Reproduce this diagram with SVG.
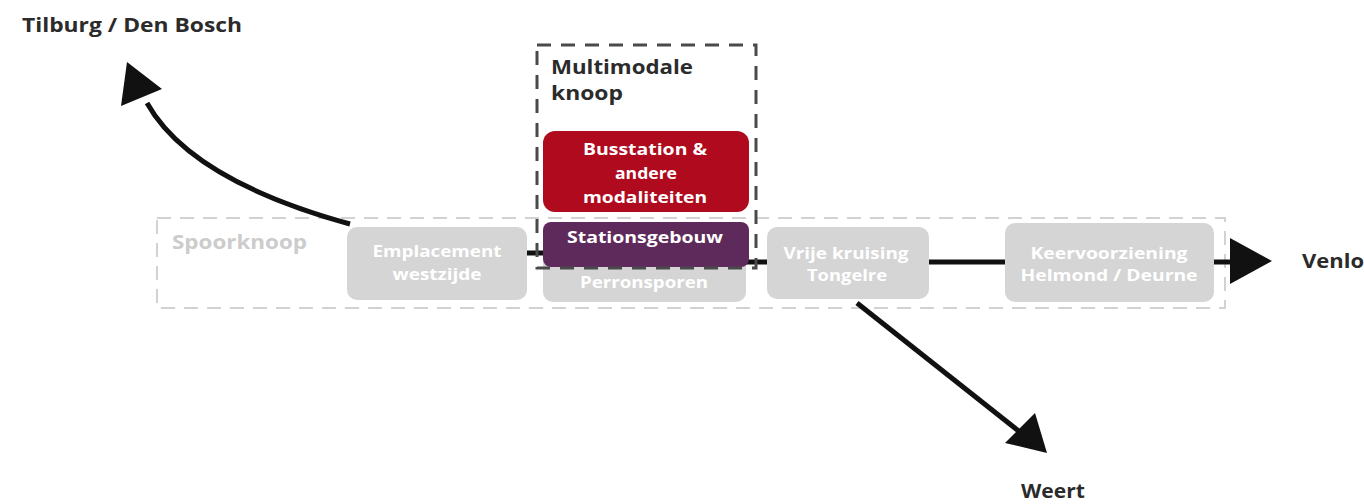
<svg xmlns="http://www.w3.org/2000/svg" width="1364" height="504" viewBox="0 0 1364 504">
<style>
text{font-family:"Open Sans",Lato,"Liberation Sans",sans-serif;font-weight:bold}
.lbl{fill:#2b2b2b;font-size:19px}
.gbox{fill:#d5d5d5}
.gtxt{fill:#ffffff;font-size:16px;text-anchor:middle}
.wtxt{fill:#ffffff;font-size:16px;text-anchor:middle}
.conn{stroke:#111;stroke-width:5;fill:none}
.head{fill:#111}
</style>
<rect width="1364" height="504" fill="#ffffff"/>
<g id="spoorknoop">
<rect x="157" y="218" width="1068" height="90" fill="none" stroke="#d2d2d2" stroke-width="2" stroke-dasharray="14 9"/>
<text x="172" y="249" font-size="19" fill="#cccccc" textLength="135" lengthAdjust="spacingAndGlyphs">Spoorknoop</text>
</g>
<g id="connectors">
<path class="conn" d="M350,224 Q190,180 147,103"/>
<polygon class="head" points="127,62 121,106 162,89"/>
<path class="conn" d="M520,253 L548,253"/>
<path class="conn" d="M740,262 L775,262"/>
<path class="conn" d="M925,262 L1010,262"/>
<path class="conn" d="M1210,262 L1235,262"/>
<polygon class="head" points="1272,261 1230,238 1230,284"/>
<path class="conn" d="M857,303 L1030,440"/>
<polygon class="head" points="1047,453 1005,443 1035,413"/>
</g>
<g id="emplacement">
<rect class="gbox" x="347" y="227" width="180" height="73" rx="10"/>
<text class="gtxt" x="437" y="257" textLength="129" lengthAdjust="spacingAndGlyphs">Emplacement</text>
<text class="gtxt" x="437" y="280" textLength="89" lengthAdjust="spacingAndGlyphs">westzijde</text>
</g>
<g id="perronsporen">
<rect class="gbox" x="543" y="235" width="203" height="67" rx="10"/>
<text class="gtxt" x="644" y="288" textLength="128" lengthAdjust="spacingAndGlyphs">Perronsporen</text>
</g>
<g id="vrije-kruising">
<rect class="gbox" x="767" y="227" width="162" height="72" rx="10"/>
<text class="gtxt" x="846" y="259" textLength="125" lengthAdjust="spacingAndGlyphs">Vrije kruising</text>
<text class="gtxt" x="847" y="281" textLength="80" lengthAdjust="spacingAndGlyphs">Tongelre</text>
</g>
<g id="keervoorziening">
<rect class="gbox" x="1005" y="223" width="209" height="79" rx="10"/>
<text class="gtxt" x="1109" y="259" textLength="157" lengthAdjust="spacingAndGlyphs">Keervoorziening</text>
<text class="gtxt" x="1109" y="281" textLength="177" lengthAdjust="spacingAndGlyphs">Helmond / Deurne</text>
</g>
<g id="stationsgebouw">
<rect x="543" y="222" width="206" height="45" rx="8" fill="#5e2a5c"/>
<text class="wtxt" x="645" y="243" textLength="156" lengthAdjust="spacingAndGlyphs">Stationsgebouw</text>
</g>
<g id="busstation">
<rect x="543" y="131" width="206" height="81" rx="12" fill="#b00a1e"/>
<text class="wtxt" x="645" y="155" textLength="124" lengthAdjust="spacingAndGlyphs">Busstation &amp;</text>
<text class="wtxt" x="646" y="179" textLength="62" lengthAdjust="spacingAndGlyphs">andere</text>
<text class="wtxt" x="645" y="203" textLength="124" lengthAdjust="spacingAndGlyphs">modaliteiten</text>
</g>
<g id="multimodale-knoop">
<rect x="537" y="45" width="219" height="223" fill="none" stroke="#4a4a4a" stroke-width="3" stroke-dasharray="14 10"/>
<text class="lbl" x="551" y="74" textLength="142" lengthAdjust="spacingAndGlyphs">Multimodale</text>
<text class="lbl" x="551" y="100" textLength="72" lengthAdjust="spacingAndGlyphs">knoop</text>
</g>
<g id="labels">
<text class="lbl" x="22" y="32" textLength="220" lengthAdjust="spacingAndGlyphs">Tilburg / Den Bosch</text>
<text class="lbl" x="1302" y="268" textLength="62" lengthAdjust="spacingAndGlyphs">Venlo</text>
<text class="lbl" x="1021" y="498" textLength="64" lengthAdjust="spacingAndGlyphs">Weert</text>
</g>
</svg>
